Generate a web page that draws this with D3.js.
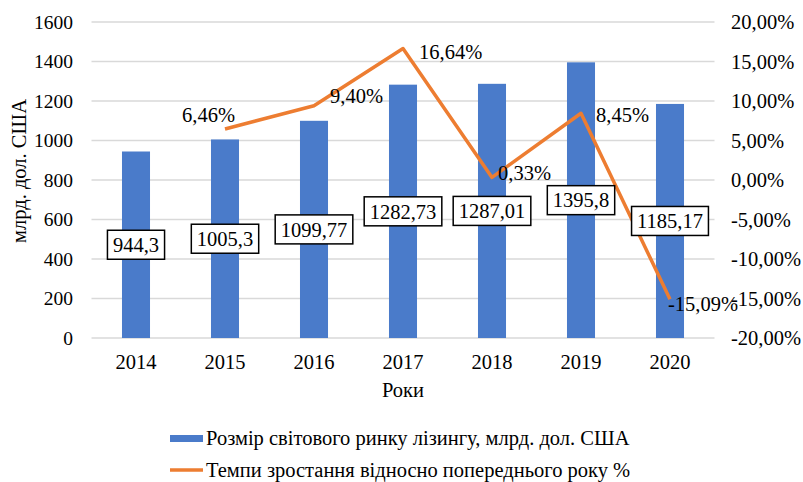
<!DOCTYPE html>
<html><head><meta charset="utf-8">
<script src="https://cdn.jsdelivr.net/npm/d3@7"></script>
<style>body{margin:0;background:#fff}svg{display:block}</style>
</head><body><svg id="c" width="803" height="482"></svg>
<script>
const years = ["2014","2015","2016","2017","2018","2019","2020"];
const marketSize = [944.3,1005.3,1099.77,1282.73,1287.01,1395.8,1185.17];
const marketLabels = ["944,3","1005,3","1099,77","1282,73","1287,01","1395,8","1185,17"];
const growthYears = ["2015","2016","2017","2018","2019","2020"];
const growth = [6.46,9.40,16.64,0.33,8.45,-15.09];
const growthLabels = ["6,46%","9,40%","16,64%","0,33%","8,45%","-15,09%"];
const leftTicks = [0,200,400,600,800,1000,1200,1400,1600];
const rightTicks = [-20,-15,-10,-5,0,5,10,15,20];
const seriesNames = ["Розмір світового ринку лізингу, млрд. дол. США","Темпи зростання відносно попереднього року %"];

const FONT = "'Liberation Serif', 'Times New Roman', Tinos, 'DejaVu Serif', serif";
const svg = d3.select("#c").attr("font-family", FONT);
const fs = 20.5;
const loc = d3.formatLocale({decimal:",", thousands:"", grouping:[3], currency:["",""], minus:"-"});
const fmtPct = loc.format(".2f");
const x = d3.scaleBand().domain(years).range([91.5,714.5]).paddingInner(0.685).paddingOuter(0.3425);
const yL = d3.scaleLinear().domain([0,1600]).range([338,22]);
const yR = d3.scaleLinear().domain([-20,20]).range([338,22]);
const cx = d => x(d)+x.bandwidth()/2;

// grid
svg.append("g").selectAll("line").data(leftTicks).join("line")
  .attr("x1",91.5).attr("x2",714.5).attr("y1",d=>yL(d)).attr("y2",d=>yL(d))
  .attr("stroke","#d9d9d9").attr("stroke-width",1.3);

// axes
const gl = svg.append("g").attr("transform","translate(82,0)")
  .call(d3.axisLeft(yL).tickValues(leftTicks).tickSize(0).tickPadding(9).tickFormat(d=>d));
const gr = svg.append("g").attr("transform","translate(723,0)")
  .call(d3.axisRight(yR).tickValues(rightTicks).tickSize(0).tickPadding(8).tickFormat(d=>fmtPct(d)+"%"));
const gb = svg.append("g").attr("transform","translate(0,338)")
  .call(d3.axisBottom(x).tickSize(0));
[gl,gr,gb].forEach(g=>{g.attr("font-family",FONT).attr("font-size",fs);g.select(".domain").remove();g.selectAll("text").attr("fill","#000");});
gl.attr("font-size",19.5);
gb.selectAll("text").attr("y",24).attr("dy","0.35em");

// bars
svg.append("g").selectAll("rect").data(marketSize).join("rect")
  .attr("x",(d,i)=>x(years[i])).attr("width",x.bandwidth())
  .attr("y",d=>yL(d)).attr("height",d=>yL(0)-yL(d)).attr("fill","#4a7bca");

// line
const line = d3.line().x((d,i)=>cx(growthYears[i])).y(d=>yR(d));
svg.append("path").datum(growth).attr("d",line).attr("fill","none")
  .attr("stroke","#ed7d31").attr("stroke-width",3.5).attr("stroke-linejoin","round");

// bar labels
const bl = svg.append("g").selectAll("g").data(marketSize).join("g")
  .attr("transform",(d,i)=>`translate(${cx(years[i])},${yL(d/2)})`);
bl.each(function(d,i){
  const g=d3.select(this);
  const t=g.append("text").attr("text-anchor","middle").attr("dy","0.35em").attr("font-size",fs).text(marketLabels[i]);
  const w=t.node().getComputedTextLength();
  g.insert("rect","text").attr("x",-w/2-5.5).attr("y",-14.5).attr("width",w+11).attr("height",29)
   .attr("fill","#fff").attr("stroke","#000").attr("stroke-width",1.5);
});

// line labels (offsets relative to point)
const lOff = [[-43,-14],[16,-10],[16,3],[6,-5],[15,2],[-2,5]];
svg.append("g").selectAll("text").data(growth).join("text")
  .attr("x",(d,i)=>cx(growthYears[i])+lOff[i][0]).attr("y",(d,i)=>yR(d)+lOff[i][1])
  .attr("text-anchor","start").attr("dy","0.35em").attr("font-size",fs)
  .text((d,i)=>growthLabels[i]);

// axis titles
svg.append("text").attr("x",403).attr("y",390).attr("text-anchor","middle").attr("dy","0.35em").attr("font-size",fs).text("Роки");
svg.append("text").attr("transform","translate(19,171) rotate(-90)").attr("text-anchor","middle").attr("dy","0.35em").attr("font-size",fs).text("млрд. дол. США");

// legend
const lg = svg.append("g");
lg.append("rect").attr("x",170).attr("y",435).attr("width",33).attr("height",7).attr("fill","#4a7bca");
lg.append("text").attr("x",206).attr("y",438).attr("dy","0.35em").attr("font-size",fs).text(seriesNames[0]);
lg.append("line").attr("x1",170).attr("x2",203).attr("y1",470).attr("y2",470).attr("stroke","#ed7d31").attr("stroke-width",3.5);
lg.append("text").attr("x",206).attr("y",470).attr("dy","0.35em").attr("font-size",fs).text(seriesNames[1]);
</script></body></html>
